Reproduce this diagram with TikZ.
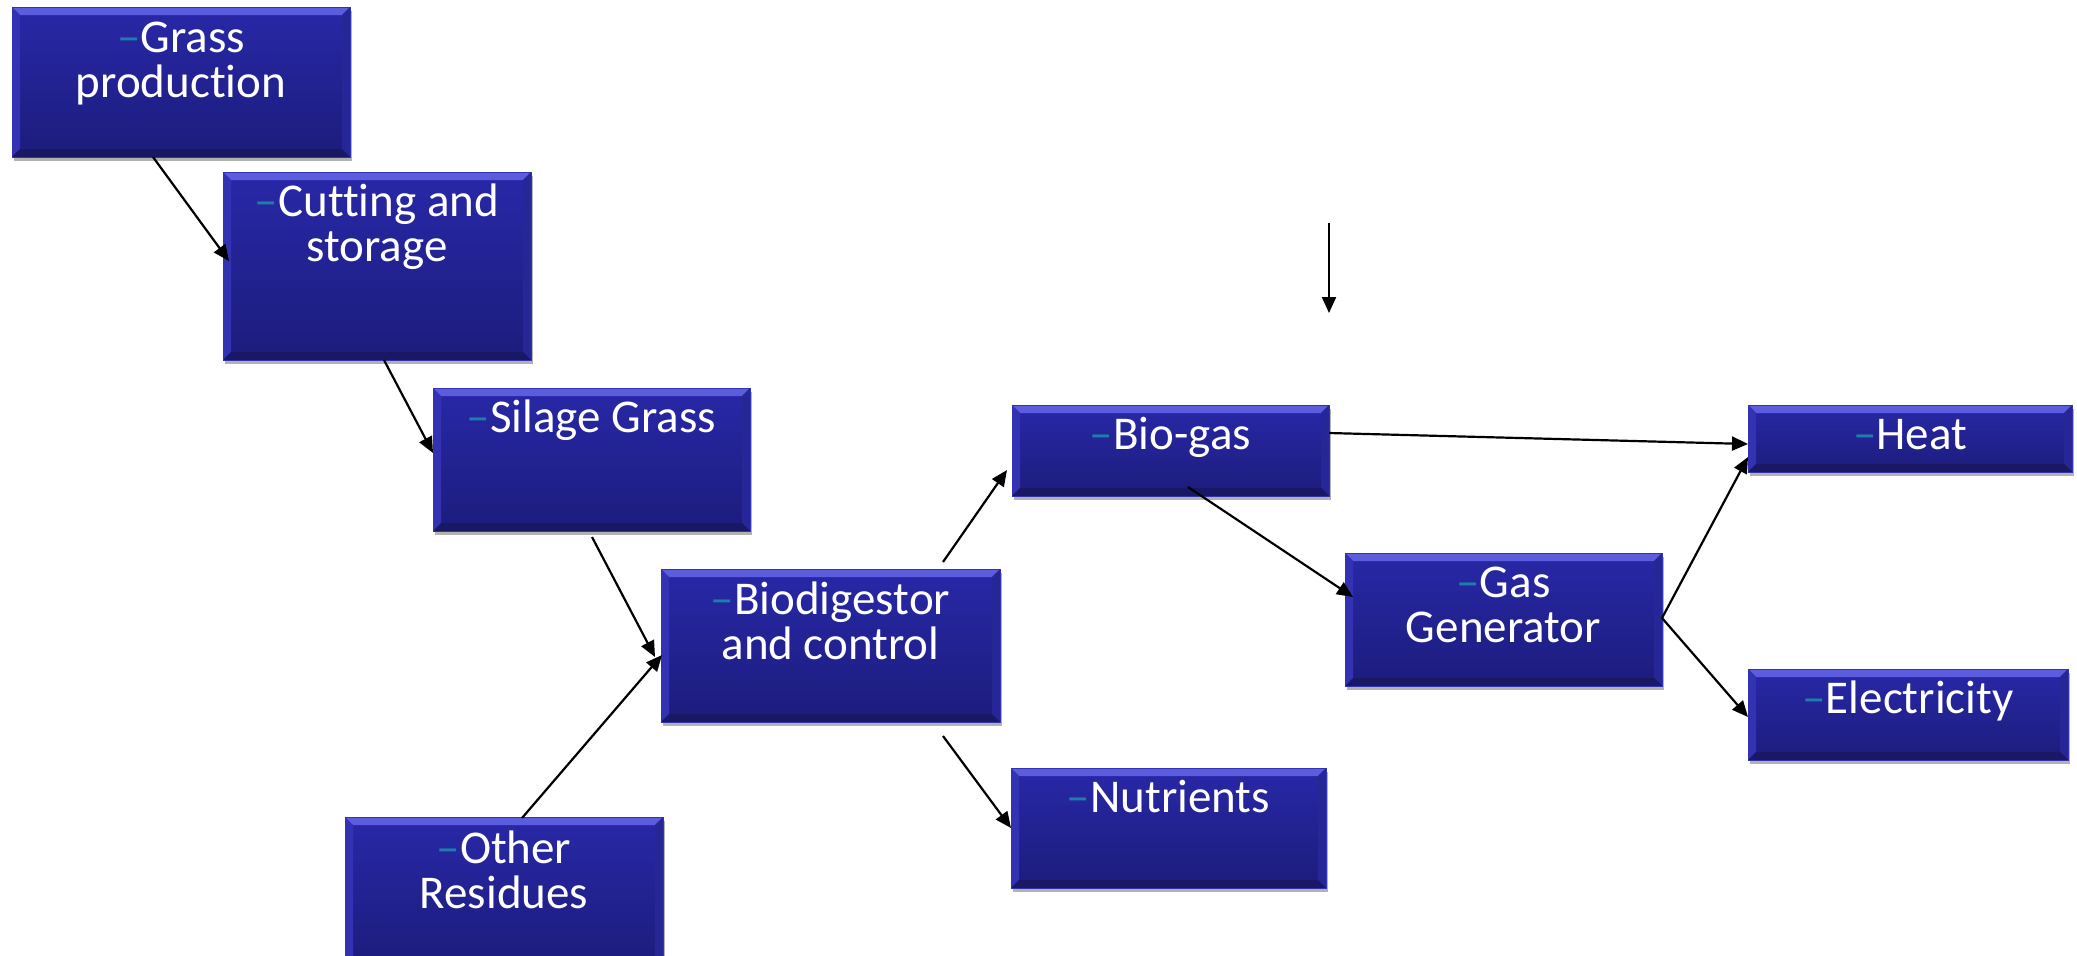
\documentclass[tikz,border=0pt]{standalone}
\usepackage{fontspec}
\setmainfont{Carlito}[Ligatures=NoCommon]
\usetikzlibrary{arrows.meta,calc,shadows}
\definecolor{facetop}{RGB}{40,40,168}
\definecolor{facebot}{RGB}{28,28,124}
\definecolor{bvtop}{RGB}{92,92,222}
\definecolor{bvleft}{RGB}{50,50,178}
\definecolor{bvright}{RGB}{38,38,150}
\definecolor{bvbot}{RGB}{24,24,100}
\definecolor{dashc}{RGB}{30,125,170}
\tikzset{
  procbox/.style={rectangle, inner sep=0pt, outer sep=0pt, anchor=north west,
    fill=facebot, draw=bvleft, line width=0.3pt,
    drop shadow={shadow xshift=1.2pt, shadow yshift=-1.8pt, opacity=0.3, fill=black},
    path picture={
      \shade[top color=facetop, bottom color=facebot]
        (path picture bounding box.north west) rectangle (path picture bounding box.south east);
      \fill[bvtop] (path picture bounding box.north west) -- (path picture bounding box.north east)
        -- ([xshift=-4pt,yshift=-4pt]path picture bounding box.north east)
        -- ([xshift=4pt,yshift=-4pt]path picture bounding box.north west) -- cycle;
      \fill[bvleft] (path picture bounding box.north west) -- (path picture bounding box.south west)
        -- ([xshift=4pt,yshift=4pt]path picture bounding box.south west)
        -- ([xshift=4pt,yshift=-4pt]path picture bounding box.north west) -- cycle;
      \fill[bvright] (path picture bounding box.north east) -- (path picture bounding box.south east)
        -- ([xshift=-4pt,yshift=4pt]path picture bounding box.south east)
        -- ([xshift=-4pt,yshift=-4pt]path picture bounding box.north east) -- cycle;
      \fill[bvbot] (path picture bounding box.south west) -- (path picture bounding box.south east)
        -- ([xshift=-4pt,yshift=4pt]path picture bounding box.south east)
        -- ([xshift=4pt,yshift=4pt]path picture bounding box.south west) -- cycle;
    }},
  boxtext/.style={text=white, align=center, inner sep=0pt, outer sep=0pt, anchor=north,
    font=\fontsize{23.5}{22.5}\selectfont},
  flow/.style={-{Triangle[length=8pt,width=7pt]}, line width=1.1pt, black}
}
\newcommand{\lead}{\rule{0pt}{17pt}{\color{dashc}–}}
\begin{document}
\begin{tikzpicture}[x=0.5pt,y=-0.5pt]
\useasboundingbox (0,0) rectangle (2077,955);
% boxes
\node[procbox, minimum width=169pt, minimum height=75pt] (grass) at (12,7) {};
\node[procbox, minimum width=154pt, minimum height=94pt] (cut) at (223,172) {};
\node[procbox, minimum width=158.5pt, minimum height=71.5pt] (silage) at (433,388) {};
\node[procbox, minimum width=169.5pt, minimum height=76.5pt] (bio) at (661,569) {};
\node[procbox, minimum width=159pt, minimum height=75pt] (other) at (345,817) {};
\node[procbox, minimum width=158.5pt, minimum height=45.5pt] (biogas) at (1012,405) {};
\node[procbox, minimum width=157.5pt, minimum height=60pt] (nutr) at (1011,768) {};
\node[procbox, minimum width=158.5pt, minimum height=66.5pt] (gasgen) at (1345,553) {};
\node[procbox, minimum width=162pt, minimum height=33.5pt] (heat) at (1748,405) {};
\node[procbox, minimum width=160pt, minimum height=45.5pt] (elec) at (1748,669) {};
% texts
\node[boxtext] (grass-t) at ($(grass.north)+(0,11)$) {\lead Grass\\production};
\node[boxtext] (cut-t) at ($(cut.north)+(0,10)$) {\lead Cutting and\\storage};
\node[boxtext] (silage-t) at ($(silage.north)+(0,10)$) {\lead Silage Grass};
\node[boxtext] (bio-t) at ($(bio.north)+(0,11)$) {\lead Biodigestor\\and control};
\node[boxtext] (other-t) at ($(other.north)+(0,12)$) {\lead Other\\Residues};
\node[boxtext] (biogas-t) at ($(biogas.north)+(0,10)$) {\lead Bio-gas};
\node[boxtext] (nutr-t) at ($(nutr.north)+(0,10)$) {\lead Nutrients};
\node[boxtext] (gasgen-t) at ($(gasgen.north)+(0,10)$) {\lead Gas\\Generator};
\node[boxtext] (heat-t) at ($(heat.north)+(0,10)$) {\lead Heat};
\node[boxtext] (elec-t) at ($(elec.north)+(0,10)$) {\lead Electricity};
% connectors
\draw[flow] ($(grass.south west)+(141,0)$) -- ($(cut.north west)+(6,89)$);
\draw[flow] ($(cut.south west)+(161,0)$) -- ($(silage.north west)+(0,65)$);
\draw[flow] ($(silage.south west)+(159,6)$) -- ($(bio.north west)+(-6,88)$);
\draw[flow] ($(other.north west)+(177,1)$) -- ($(bio.north west)+(1,86)$);
\draw[flow] ($(bio.north west)+(282,-7)$) -- ($(biogas.south west)+(-5,-26)$);
\draw[flow] ($(bio.south west)+(282,14)$) -- ($(nutr.north west)+(0,60)$);
\draw[flow] ($(biogas.north east)+(0,28)$) -- ($(heat.north west)+(0,39)$);
\draw[flow] ($(biogas.south west)+(176,-9)$) -- ($(gasgen.north west)+(8,44)$);
\draw[flow] ($(gasgen.north east)+(0,65)$) -- ($(heat.south west)+(0,-15)$);
\draw[flow] ($(gasgen.north east)+(0,65)$) -- ($(elec.north west)+(0,48)$);
\coordinate (freetop) at (1329,223);
\coordinate (freebot) at (1329,313);
\draw[flow] (freetop) -- (freebot);
\end{tikzpicture}
\end{document}
